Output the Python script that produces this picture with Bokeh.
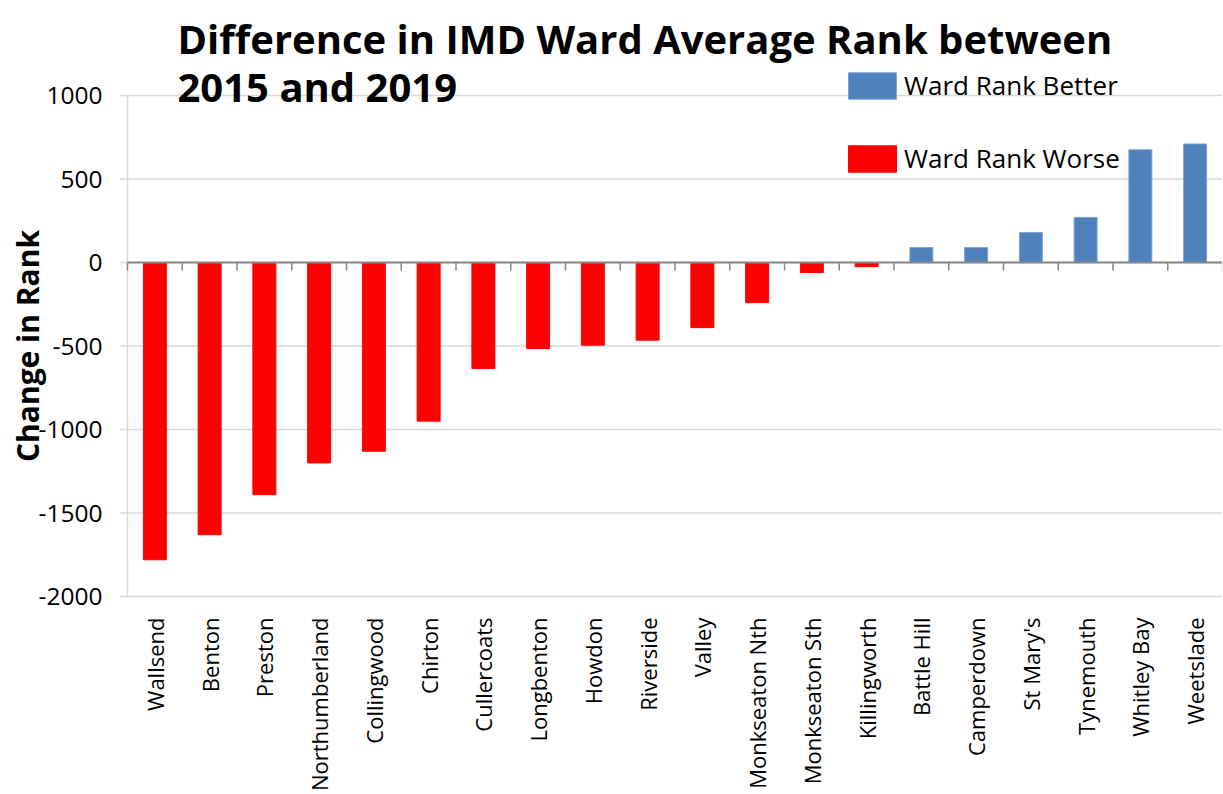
import math
from bokeh.plotting import figure
from bokeh.models import (Range1d, Label, Legend, LegendItem, ColumnDataSource)
from bokeh.core.properties import value
from bokeh.embed import file_html
from bokeh.resources import INLINE

# ---- data ----
wards = ["Wallsend", "Benton", "Preston", "Northumberland", "Collingwood", "Chirton",
         "Cullercoats", "Longbenton", "Howdon", "Riverside", "Valley", "Monkseaton Nth",
         "Monkseaton Sth", "Killingworth", "Battle Hill", "Camperdown", "St Mary's",
         "Tynemouth", "Whitley Bay", "Weetslade"]
change = [-1780, -1630, -1390, -1200, -1130, -950, -635, -515, -495, -465, -390, -240,
          -60, -25, 90, 90, 180, 270, 675, 710]
y_ticks = [-2000, -1500, -1000, -500, 0, 500, 1000]
y_tick_labels = ["-2000", "-1500", "-1000", "-500", "0", "500", "1000"]
series_better = "Ward Rank Better"
series_worse = "Ward Rank Worse"
title_line1 = "Difference in IMD Ward Average Rank between"
title_line2 = "2015 and 2019"
y_title = "Change in Rank"

BLUE = "#4F81BD"
RED = "#FF0000"
GRID = "#D9D9D9"
AXIS = "#868686"
FONT = "Open Sans"

# ---- layout (pixels) ----
W, H = 1222, 792
PLOT_LEFT, PLOT_RIGHT = 127, 1222          # pixel columns of the plot area
Y_TOP_PX, Y_BOTTOM_PX = 95, 596            # pixel rows of the 1000 / -2000 gridlines
n = len(wards)
cat_px = (PLOT_RIGHT - PLOT_LEFT) / n
x_start = -0.5 - PLOT_LEFT / cat_px
x_end = n - 0.5 + (W - PLOT_RIGHT) / cat_px
ymin, ymax = min(y_ticks), max(y_ticks)
px_per_unit = (Y_BOTTOM_PX - Y_TOP_PX) / (ymax - ymin)
y_top = ymax + Y_TOP_PX / px_per_unit
y_bottom = ymin - (H - Y_BOTTOM_PX) / px_per_unit

def dy(page_y):      # page row -> data y
    return y_top - page_y / px_per_unit

def dxpx(px):        # pixel distance -> data x distance
    return px / cat_px

idx = list(range(n))
better_src = ColumnDataSource(dict(
    x=[i for i, c in zip(idx, change) if c >= 0],
    change=[c for c in change if c >= 0]))
worse_src = ColumnDataSource(dict(
    x=[i for i, c in zip(idx, change) if c < 0],
    change=[c for c in change if c < 0]))

p = figure(x_range=Range1d(x_start, x_end), y_range=Range1d(y_bottom, y_top),
           width=W, height=H, output_backend="svg", toolbar_location=None,
           min_border=0)
p.xaxis.visible = False
p.yaxis.visible = False
p.xgrid.grid_line_color = None
p.ygrid.grid_line_color = None
p.outline_line_color = None
p.background_fill_color = "white"
p.border_fill_color = "white"

left_edge = -0.5
right_edge = n - 0.5

# horizontal gridlines (with the small outward tick at the left)
p.segment(x0=[left_edge - dxpx(8)] * len(y_ticks), y0=y_ticks,
          x1=[right_edge] * len(y_ticks), y1=y_ticks,
          line_color=GRID, line_width=1.5)
# vertical axis line
p.segment(x0=[left_edge], y0=[ymin], x1=[left_edge], y1=[ymax],
          line_color=GRID, line_width=1.5)

# y tick labels
p.text(x=[left_edge - dxpx(25)] * len(y_ticks), y=y_ticks, text=y_tick_labels,
       text_align="right", text_baseline="middle", text_font=value(FONT),
       text_font_size="24.5px", text_color="black")

# y-axis title
p.add_layout(Label(x=27, y=H - (Y_TOP_PX + Y_BOTTOM_PX) / 2,
                   x_units="screen", y_units="screen", text=y_title,
                   angle=math.pi / 2, text_align="center", text_baseline="middle",
                   text_font=FONT, text_font_size="30px", text_font_style="bold",
                   text_color="black"))

# bars
rb = p.vbar(x="x", top="change", source=better_src, width=0.42,
            fill_color=BLUE, line_color="#7FA3D3", line_width=1)
rw = p.vbar(x="x", top="change", source=worse_src, width=0.42,
            fill_color=RED, line_color=RED, line_width=1)

# zero (category) axis line with boundary ticks
tick_len = 8 / px_per_unit
p.segment(x0=[left_edge], y0=[0], x1=[right_edge], y1=[0], line_color=AXIS, line_width=2)
bounds = [i - 0.5 for i in range(n + 1)]
p.segment(x0=bounds, y0=[0] * len(bounds), x1=bounds, y1=[-tick_len] * len(bounds),
          line_color=AXIS, line_width=1.5)

# category labels (rotated)
p.text(x=idx, y=[dy(617)] * n, text=wards, angle=math.pi / 2,
       text_align="right", text_baseline="middle", text_font=value(FONT),
       text_font_size="22px", text_color="black")

# title (two lines)
p.add_layout(Label(x=177, y=H - 38, x_units="screen", y_units="screen",
                   text=title_line1, text_font=FONT, text_font_size="40px",
                   text_font_style="bold", text_color="black",
                   text_baseline="alphabetic"))
p.add_layout(Label(x=177, y=H - 86, x_units="screen", y_units="screen",
                   text=title_line2, text_font=FONT, text_font_size="40px",
                   text_font_style="bold", text_color="black",
                   text_baseline="alphabetic"))

# legend
legend = Legend(items=[LegendItem(label=series_better, renderers=[rb]),
                       LegendItem(label=series_worse, renderers=[rw])],
                location=(842, H - 176), orientation="vertical",
                glyph_width=60, glyph_height=33, spacing=37, padding=0, margin=0,
                label_standoff=2, label_text_font=FONT, label_text_font_size="26px",
                label_text_color="black", border_line_color=None,
                background_fill_alpha=0)
p.add_layout(legend)

open("out.html", "w").write(file_html(p, INLINE))
